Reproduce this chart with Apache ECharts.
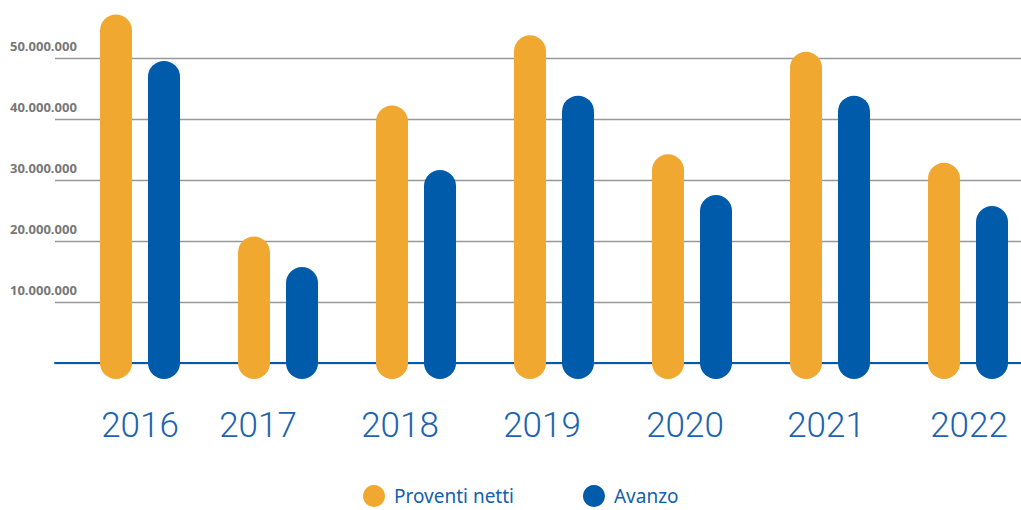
<!DOCTYPE html>
<html>
<head>
<meta charset="utf-8">
<script src="https://cdn.jsdelivr.net/npm/echarts@6/dist/echarts.min.js"></script>
<style>
html,body{margin:0;padding:0;background:#fff;}
#chart{width:1021px;height:510px;}
</style>
</head>
<body>
<div id="chart"></div>
<script>
const categories = ['2016','2017','2018','2019','2020','2021','2022'];
const proventiNetti = [54.5e6, 18.1e6, 39.6e6, 51.1e6, 31.6e6, 48.4e6, 30.2e6];
const avanzo = [46.9e6, 13.1e6, 29.0e6, 41.2e6, 24.9e6, 41.2e6, 23.1e6];
const yTickLabels = ['', '10.000.000', '20.000.000', '30.000.000', '40.000.000', '50.000.000'];
const seriesNames = ['Proventi netti', 'Avanzo'];

// style config (label shifts in px, bar offsets in px)
const labelShift = [16, -4, 0, 4, 9, 12, 17];
const barOffset = [-8, 40];
const colors = ['#F0A830', '#005BAB'];
const BAR_W = 32;

const chart = echarts.init(document.getElementById('chart'), null, {renderer: 'svg'});

function makeRender(k) {
  return function (params, api) {
    const i = api.value(0);
    const p0 = api.coord([i, 0]);
    const p1 = api.coord([i, api.value(1)]);
    const x = p0[0] + barOffset[k];
    return {
      type: 'line',
      shape: {x1: x, y1: p0[1], x2: x, y2: p1[1]},
      style: {stroke: colors[k], lineWidth: BAR_W, lineCap: 'round', fill: null}
    };
  };
}

const option = {
  animation: false,
  grid: {left: 55, right: 0, top: 58, bottom: 147, containLabel: false},
  legend: {
    data: seriesNames,
    left: 363,
    top: 485,
    padding: 0,
    icon: 'circle',
    itemWidth: 22,
    itemHeight: 22,
    itemGap: 69,
    textStyle: {fontFamily: 'Noto Sans', fontSize: 19, color: '#1460AC', padding: [0, 0, 0, 4]}
  },
  xAxis: {
    type: 'category',
    data: categories.map((c, i) => ({
      value: c,
      textStyle: {padding: labelShift[i] >= 0 ? [0, 0, 0, 2 * labelShift[i]] : [0, -2 * labelShift[i], 0, 0]}
    })),
    axisLine: {show: true, lineStyle: {color: '#005BAB', width: 2}},
    axisTick: {show: false},
    axisLabel: {fontFamily: 'Roboto', fontWeight: 300, fontSize: 35, color: '#1B63AF', margin: 45}
  },
  yAxis: {
    type: 'value',
    min: 0,
    max: 50000000,
    interval: 10000000,
    axisLine: {show: false},
    axisTick: {show: false},
    splitLine: {lineStyle: {color: '#999999', width: 1.3}},
    axisLabel: {
      align: 'left',
      verticalAlign: 'bottom',
      margin: 45,
      padding: [0, 0, 6, 0],
      fontFamily: 'Open Sans',
      fontWeight: 'bold',
      fontSize: 13,
      color: '#777777',
      formatter: (v) => yTickLabels[Math.round(v / 10000000)]
    }
  },
  series: [0, 1].map(k => ({
    type: 'custom',
    name: seriesNames[k],
    itemStyle: {color: colors[k]},
    renderItem: makeRender(k),
    clip: false,
    z: 3,
    data: (k === 0 ? proventiNetti : avanzo).map((v, i) => [i, v])
  }))
};
chart.setOption(option);
</script>
</body>
</html>
